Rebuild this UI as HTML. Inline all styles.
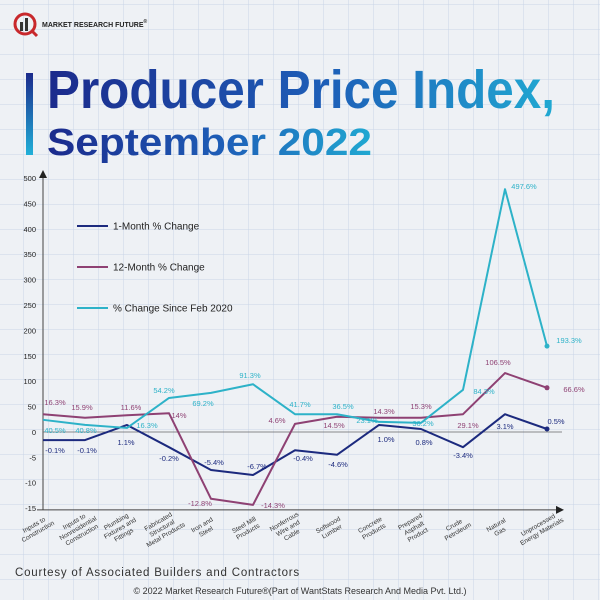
<!DOCTYPE html>
<html><head><meta charset="utf-8"><style>
html,body{margin:0;padding:0;width:600px;height:600px;overflow:hidden;background:#eef1f5}
svg{display:block;font-family:"Liberation Sans",sans-serif}
</style></head><body>
<svg id="chart" width="600" height="600" viewBox="0 0 600 600">
<defs>
<pattern id="grid" width="25" height="25" patternUnits="userSpaceOnUse" x="-1" y="5">
<rect width="25" height="25" fill="#eef1f5"/>
<path d="M25 0V25M0 25H25" stroke="#c9d5e8" stroke-width="1" fill="none"/>
</pattern>
<linearGradient id="tg" x1="0" x2="1" y1="0" y2="0">
<stop offset="0" stop-color="#1b2a8c"/><stop offset="0.55" stop-color="#1e5fb8"/><stop offset="1" stop-color="#20a9d2"/>
</linearGradient>
<linearGradient id="bg" x1="0" x2="0" y1="0" y2="1">
<stop offset="0" stop-color="#1b2a8c"/><stop offset="1" stop-color="#21b0d8"/>
</linearGradient>
</defs>
<rect width="600" height="600" fill="url(#grid)"/>
<g>
<circle cx="25" cy="24" r="10" fill="none" stroke="#c8282c" stroke-width="3"/>
<rect x="20" y="22" width="3" height="9" fill="#333"/><rect x="25" y="18" width="3" height="13" fill="#333"/>
<line x1="32" y1="31" x2="37" y2="36" stroke="#c8282c" stroke-width="3"/>
<text x="42" y="27" font-size="7" font-weight="bold" fill="#222">MARKET RESEARCH FUTURE<tspan font-size="5" dy="-4">®</tspan></text>
</g>
<rect x="26" y="73" width="7" height="82" fill="url(#bg)"/>
<text x="47" y="108" font-size="54" font-weight="bold" fill="url(#tg)" textLength="508" lengthAdjust="spacingAndGlyphs">Producer Price Index,</text>
<text x="47" y="155" font-size="38" font-weight="bold" fill="url(#tg)" textLength="325" lengthAdjust="spacingAndGlyphs">September 2022</text>
<g id="plot"></g>
<text x="15" y="576" font-size="11.5" fill="#333" letter-spacing="0.8">Courtesy of Associated Builders and Contractors</text>
<text x="300" y="594" font-size="9" fill="#333" text-anchor="middle">© 2022 Market Research Future®(Part of WantStats Research And Media Pvt. Ltd.)</text>
</svg>
<script>
const categories=[["Inputs to","Construction"],["Inputs to","Nonresidential","Construction"],["Plumbing","Fixtures and","Fittings"],["Fabricated","Structural","Metal Products"],["Iron and","Steel"],["Steel Mill","Products"],["Nonferrous","Wire and","Cable"],["Softwood","Lumber"],["Concrete","Products"],["Prepared","Asphalt","Product"],["Crude","Petroleum"],["Natural","Gas"],["Unprocessed","Energy Materials"]];
const oneMonth=[-1.6,-1.6,13.8,-3,-7.5,-8.5,-3.6,-4.5,13.8,5.9,-3,35,5.9];
const twelveMonth=[35,28,33,37,-13.2,-14.4,16,30,28,28,35,116,87];
const sinceFeb2020=[24,14,8,67,77,94,35,35,20,18,83,478,169];
const oneMonthLabels=["-0.1%","-0.1%","1.1%","-0.2%","-5.4%","-6.7%","-0.4%","-4.6%","1.0%","0.8%","-3.4%","3.1%","0.5%"];
const twelveMonthLabels=["16.3%","15.9%","11.6%","14%","-12.8%","-14.3%","4.6%","14.5%","14.3%","15.3%","29.1%","106.5%","66.6%"];
const febLabels=["40.5%","40.8%","16.3%","54.2%","69.2%","91.3%","41.7%","36.5%","23.1%","36.2%","84.3%","497.6%","193.3%"];
const yTicks=[500,450,400,350,300,250,200,150,100,50,0,-5,-10,-15];
const seriesNames=["1-Month % Change","12-Month % Change","% Change Since Feb 2020"];

const NS="http://www.w3.org/2000/svg";
const plot=document.getElementById("plot");
const Y0=432, X0=43, STEP=42;
function x(i){return X0+i*STEP;}
function y(v){return v>=0? Y0-v/50*25.4 : Y0+(-v)/5*25.3;}
function mk(tag,attrs,parent){const e=document.createElementNS(NS,tag);for(const k in attrs)e.setAttribute(k,attrs[k]);(parent||plot).appendChild(e);return e;}

let e=mk("line",{x1:X0,y1:y(-15)+2,x2:X0,y2:172,stroke:"#444","stroke-width":1});


e=mk("path",{d:`M${X0-4} 178L${X0} 170L${X0+4} 178Z`,fill:"#222"});


e=mk("line",{x1:37,y1:y(-15)+2,x2:558,y2:y(-15)+2,stroke:"#444","stroke-width":1});


e=mk("path",{d:`M556 ${y(-15)-2}L564 ${y(-15)+2}L556 ${y(-15)+6}Z`,fill:"#222"});


e=mk("line",{x1:X0,y1:Y0,x2:562,y2:Y0,stroke:"#666","stroke-width":0.8});


yTicks.forEach(t=>{
  const tx=mk("text",{x:36,y:y(t)+3,"font-size":7.5,"text-anchor":"end",fill:"#222"});
  tx.textContent=t;
  
  
});
categories.forEach((c,i)=>{
  const g=mk("text",{transform:`translate(${x(i)-6},${530}) rotate(-30)`,"font-size":6.5,"text-anchor":"middle",fill:"#333"});
  
  
  const off=-(c.length-1)*3.8;
  c.forEach((ln,k)=>{const ts=mk("tspan",{x:0,y:off+k*7.6},g);ts.textContent=ln;});
});
const colors=["#1c2a7e","#8e4173","#2db2c8"];
const data=[oneMonth,twelveMonth,sinceFeb2020];
const labels=[oneMonthLabels,twelveMonthLabels,febLabels];
const offs=[
 [[12,13],[2,13],[-1,20],[0,14],[3,-5],[4,-6],[8,11],[1,12],[7,17],[3,16],[0,11],[0,15],[9,-5]],
 [[12,-9],[-3,-8],[4,-5],[10,5],[-11,7],[20,3],[-18,-1],[-3,11],[5,-4],[0,-9],[5,14],[-7,-8],[27,4]],
 [[12,13],[1,8],[20,0],[-5,-5],[-8,13],[-3,-6],[5,-7],[6,-5],[-12,1],[2,3],[21,4],[19,0],[22,-3]]];
const names=["one-month","twelve-month","since-feb-2020"];
data.forEach((vals,s)=>{
  const d=vals.map((v,i)=>(i?"L":"M")+x(i)+" "+y(v)).join("");
  const p=mk("path",{d:d,fill:"none",stroke:colors[s],"stroke-width":2,"stroke-linejoin":"round"});
  
  
  const last=vals.length-1;
  const dot=mk("circle",{cx:x(last),cy:y(vals[last]),r:2.5,fill:colors[s]});
  
  
  vals.forEach((v,i)=>{
    const t=mk("text",{x:x(i)+offs[s][i][0],y:y(v)+offs[s][i][1],"font-size":7.5,"text-anchor":"middle",fill:colors[s]});
    t.textContent=labels[s][i];
    
    
  });
});
seriesNames.forEach((n,s)=>{
  const ly=226+s*41;
  const l=mk("line",{x1:77,y1:ly,x2:108,y2:ly,stroke:colors[s],"stroke-width":2});
  
  
  const t=mk("text",{x:113,y:ly+3.5,"font-size":10,fill:"#222"});
  t.textContent=n;
  
  
});
</script>
</body></html>
